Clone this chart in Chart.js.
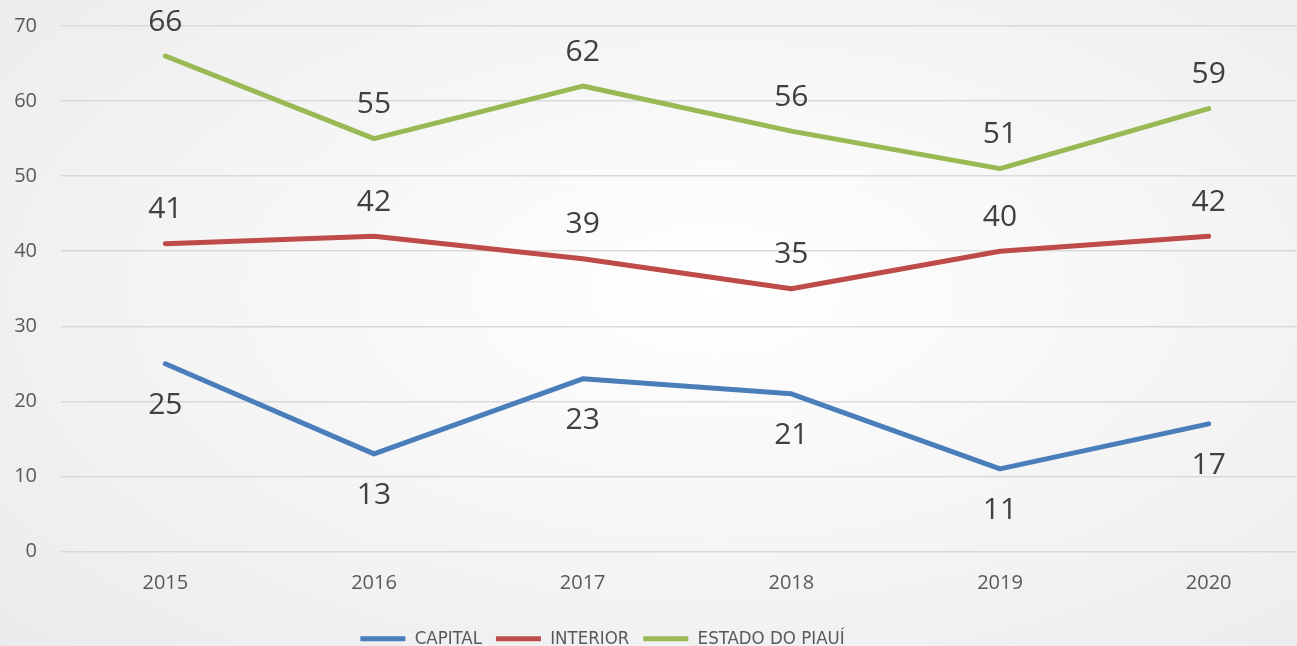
<!DOCTYPE html>
<html>
<head>
<meta charset="utf-8">
<script src="https://cdn.jsdelivr.net/npm/chart.js@4"></script>
<style>
html,body{margin:0;padding:0;overflow:hidden;width:1297px;height:646px;}
body{background:radial-gradient(ellipse 75% 80% at 55% 45%, #ffffff 0%, #f6f6f6 45%, #ebebeb 100%);}
#wrap{position:absolute;left:0;top:0;width:1320px;height:646px;}
</style>
</head>
<body>
<div id="wrap"><canvas id="c" width="1320" height="646"></canvas></div>
<script>
const categories = ['2015','2016','2017','2018','2019','2020'];
const capital = [25, 13, 23, 21, 11, 17];
const interior = [41, 42, 39, 35, 40, 42];
const estado = [66, 55, 62, 56, 51, 59];
const yTicks = [0,10,20,30,40,50,60,70];

const labelPlugin = {
  id: 'valueLabels',
  afterDatasetsDraw(chart) {
    const ctx = chart.ctx;
    ctx.save();
    ctx.font = '30px "Open Sans"';
    ctx.fillStyle = '#404040';
    ctx.textAlign = 'center';
    ctx.textBaseline = 'middle';
    chart.data.datasets.forEach((ds, di) => {
      const meta = chart.getDatasetMeta(di);
      meta.data.forEach((el, i) => {
        ctx.fillText(String(ds.data[i]), el.x, el.y + ds.labelOffset);
      });
    });
    ctx.restore();
  }
};
const legendShift = {
  id: 'legendShift',
  afterLayout(chart) {
    const lg = chart.legend;
    lg.left -= 54; lg.right -= 54;
    lg.top += 12; lg.bottom += 12;
  }
};

new Chart(document.getElementById('c'), {
  type: 'line',
  data: {
    labels: categories,
    datasets: [
      {label:'CAPITAL', data: capital, borderColor:'#4a7ebb', backgroundColor:'#4a7ebb', labelOffset: 42},
      {label:'INTERIOR', data: interior, borderColor:'#be4b48', backgroundColor:'#be4b48', labelOffset: -34},
      {label:'ESTADO DO PIAUÍ', data: estado, borderColor:'#98b954', backgroundColor:'#98b954', labelOffset: -34}
    ]
  },
  options: {
    responsive: false,
    animation: false,
    devicePixelRatio: 1,
    elements: {
      line: {borderWidth: 5, borderCapStyle:'round', borderJoinStyle:'round', tension: 0},
      point: {radius: 0, hoverRadius: 0}
    },
    layout: {padding: {top: 26, left: 0, right: 7, bottom: 0}},
    scales: {
      x: {
        type: 'category',
        offset: true,
        grid: {display: false, drawTicks: false},
        border: {display: false},
        ticks: {color:'#595959', font:{family:'Open Sans', size:20}, padding: 20},
        afterFit(s){ s.height = 52; }
      },
      y: {
        min: 0, max: 70,
        afterBuildTicks(s){ s.ticks = yTicks.map(v => ({value: v})); },
        grid: {color:'#d9d9d9', lineWidth: 1.5, drawTicks: false},
        border: {display: false},
        ticks: {color:'#595959', font:{family:'Open Sans', size:20}, padding: 24},
        afterFit(s){ s.width = 61; s.paddingTop = 0; s.paddingBottom = 0; }
      }
    },
    plugins: {
      tooltip: {enabled: false},
      legend: {
        position: 'bottom',
        labels: {
          boxWidth: 45, boxHeight: 5, padding: 14,
          color: '#595959',
          font: {family: '"Liberation Sans Narrow", "DejaVu Sans Condensed", sans-serif', size: 18.5},
          generateLabels(chart) {
            return chart.data.datasets.map((ds, i) => ({
              text: ds.label, fillStyle: ds.borderColor, strokeStyle: ds.borderColor,
              lineWidth: 0, hidden: false, datasetIndex: i, fontColor: '#595959'
            }));
          }
        }
      }
    }
  },
  plugins: [labelPlugin, legendShift]
});
</script>
</body>
</html>
